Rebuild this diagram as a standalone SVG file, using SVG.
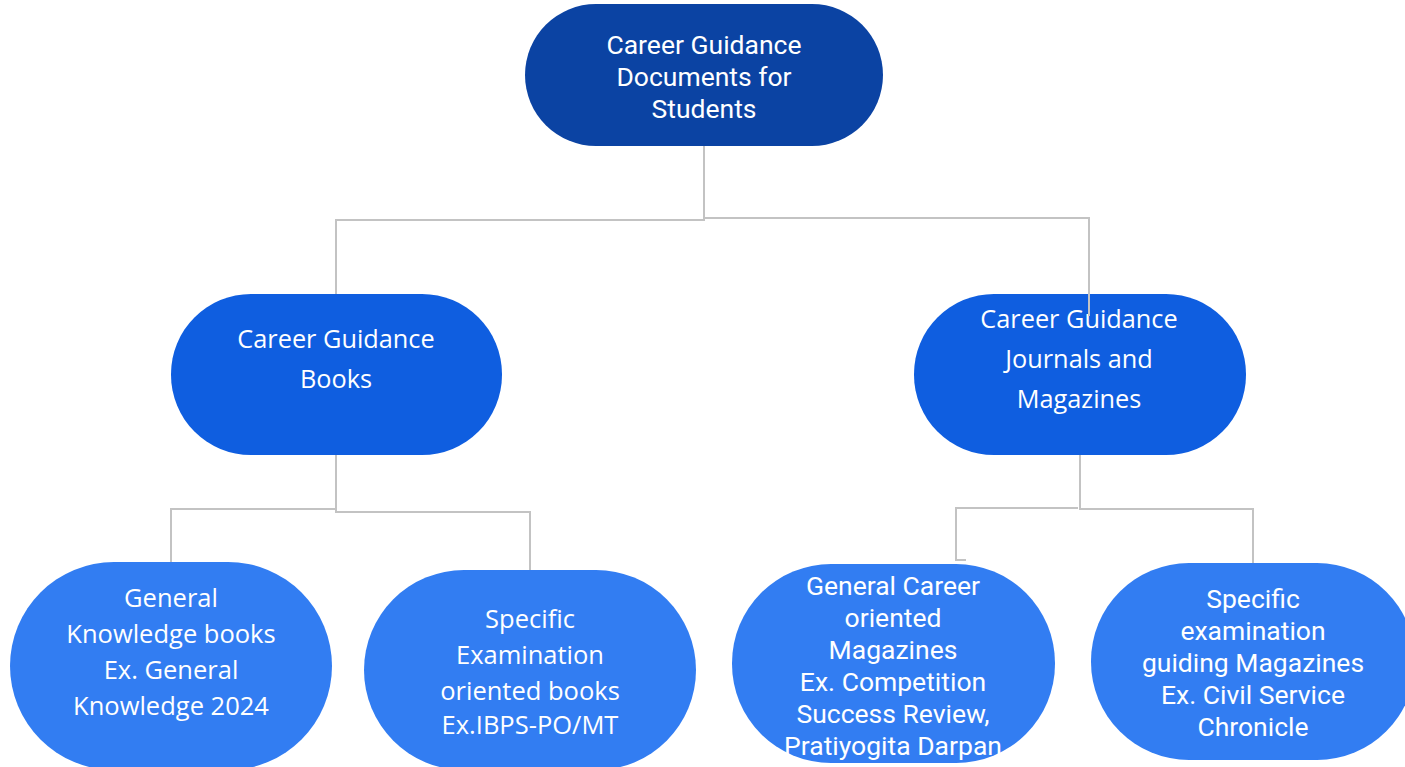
<svg xmlns="http://www.w3.org/2000/svg" width="1405" height="767" viewBox="0 0 1405 767">
<style>
.c{fill:none;stroke:#c3c3c3;stroke-width:2}
.t{fill:#fff;text-anchor:middle;dominant-baseline:central}
.r{font-family:Roboto,"Liberation Sans",sans-serif;font-size:26.5px}
.o{font-family:"Open Sans","Liberation Sans",sans-serif;font-size:25.3px}
.ob{font-family:"Open Sans","Liberation Sans",sans-serif;font-size:25.5px}
.n1{fill:#0b43a3}
.n2{fill:#0f5ee0}
.n3{fill:#327df2}
</style>
<rect width="1405" height="767" fill="#fff"/>
<g id="root">
<rect class="n1" x="525" y="4" width="358" height="142" rx="71"/>
<text class="t r"><tspan x="704" y="44">Career Guidance</tspan><tspan x="704" y="76">Documents for</tspan><tspan x="704" y="108">Students</tspan></text>
</g>
<g id="books">
<rect class="n2" x="171" y="294" width="331" height="161" rx="80"/>
<text class="t o"><tspan x="336" y="338">Career Guidance</tspan><tspan x="336" y="378">Books</tspan></text>
</g>
<g id="journals">
<rect class="n2" x="914" y="294" width="332" height="161" rx="80"/>
<text class="t o"><tspan x="1079" y="318">Career Guidance</tspan><tspan x="1079" y="358">Journals and</tspan><tspan x="1079" y="398">Magazines</tspan></text>
</g>
<g id="gk">
<rect class="n3" x="10" y="562" width="322" height="208" rx="104"/>
<text class="t ob"><tspan x="171" y="597">General</tspan><tspan x="171" y="633">Knowledge books</tspan><tspan x="171" y="669">Ex. General</tspan><tspan x="171" y="705">Knowledge 2024</tspan></text>
</g>
<g id="exam-books">
<rect class="n3" x="364" y="570" width="332" height="200" rx="100"/>
<text class="t ob"><tspan x="530" y="618">Specific</tspan><tspan x="530" y="654">Examination</tspan><tspan x="530" y="690">oriented books</tspan><tspan x="530" y="724">Ex.IBPS-PO/MT</tspan></text>
</g>
<g id="career-mags">
<rect class="n3" x="732" y="564" width="323" height="199" rx="99"/>
<text class="t r"><tspan x="893" y="585">General Career</tspan><tspan x="893" y="617">oriented</tspan><tspan x="893" y="649">Magazines</tspan><tspan x="893" y="681">Ex. Competition</tspan><tspan x="893" y="713">Success Review,</tspan><tspan x="893" y="745">Pratiyogita Darpan</tspan></text>
</g>
<g id="exam-mags">
<rect class="n3" x="1091" y="563" width="324" height="197" rx="98"/>
<text class="t r"><tspan x="1253" y="598">Specific</tspan><tspan x="1253" y="630">examination</tspan><tspan x="1253" y="662">guiding Magazines</tspan><tspan x="1253" y="694">Ex. Civil Service</tspan><tspan x="1253" y="726">Chronicle</tspan></text>
</g>
<g id="connectors">
<path class="c" d="M704 146V218H1089V316"/>
<path class="c" d="M704 218V220H336V294"/>
<path class="c" d="M336 455V512H530V570"/>
<path class="c" d="M336 509H171V562"/>
<path class="c" d="M1080 455V509H1253V563"/>
<path class="c" d="M1078 508H956V560H966"/>
</g>
</svg>
